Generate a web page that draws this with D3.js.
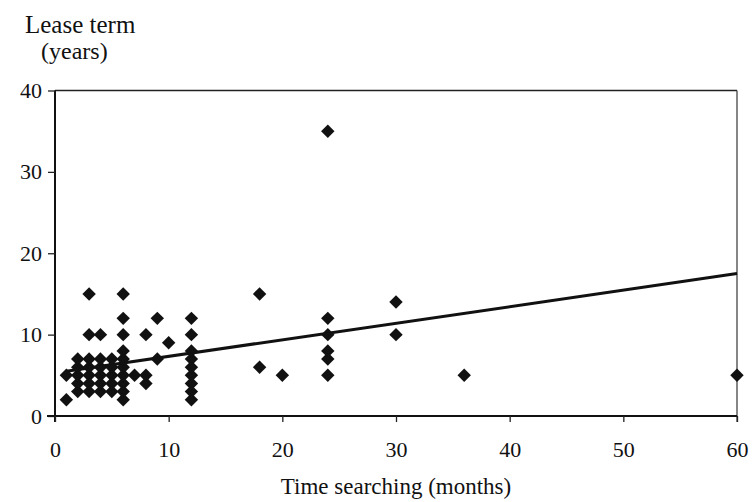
<!DOCTYPE html>
<html>
<head>
<meta charset="utf-8">
<script src="https://cdn.jsdelivr.net/npm/d3@7/dist/d3.min.js"></script>
<style>
  html, body { margin: 0; padding: 0; background: #fff; }
  svg { display: block; }
  text { font-family: "Liberation Serif", "DejaVu Serif", serif; fill: #111; }
</style>
</head>
<body>
<svg id="chart" width="752" height="502"></svg>
<script>
// Data
const months = [1,1, 2,2,2,2,2, 3,3,3,3,3,3,3, 4,4,4,4,4,4, 5,5,5,5,5,
  6,6,6,6,6,6,6,6,6,6, 7, 8,8,8, 9,9, 10, 12,12,12,12,12,12,12,12,12,
  18,18, 20, 24,24,24,24,24,24, 30,30, 36, 60];
const leaseYears = [2,5, 3,4,5,6,7, 3,4,5,6,7,10,15, 3,4,5,6,7,10, 3,4,5,6,7,
  2,3,4,5,6,7,8,10,12,15, 5, 4,5,10, 7,12, 9, 2,3,4,5,6,7,8,10,12,
  6,15, 5, 5,7,8,10,12,35, 10,14, 5, 5];
const trendX = [1, 60];
const trendY = [5.5, 17.5];
const xTicks = [0, 10, 20, 30, 40, 50, 60];
const yTicks = [0, 10, 20, 30, 40];

const svg = d3.select("#chart");
const x = d3.scaleLinear().domain([0, 60]).range([55, 737]);
const y = d3.scaleLinear().domain([0, 40]).range([416, 90.5]);

// frame (top and right)
svg.append("line").attr("x1", x(0)).attr("x2", x(60)).attr("y1", y(40)).attr("y2", y(40))
  .attr("stroke", "#222").attr("stroke-width", 1.5);
svg.append("line").attr("x1", x(60)).attr("x2", x(60)).attr("y1", y(40)).attr("y2", y(0) + 6)
  .attr("stroke", "#444").attr("stroke-width", 1.3);

// axes
const yAxis = svg.append("g").attr("transform", `translate(${x(0)},0)`)
  .call(d3.axisLeft(y).tickValues(yTicks).tickSize(7).tickPadding(6).tickFormat(d3.format("d")));
const xAxis = svg.append("g").attr("transform", `translate(0,${y(0)})`)
  .call(d3.axisBottom(x).tickValues(xTicks).tickSize(6).tickPadding(19).tickFormat(d3.format("d")));
[yAxis, xAxis].forEach(g => {
  g.select(".domain").attr("stroke", "#111").attr("stroke-width", 2);
  g.selectAll(".tick line").attr("stroke", "#222").attr("stroke-width", 1.3);
  g.selectAll(".tick text").attr("font-family", "Liberation Serif").attr("font-size", 22).attr("fill", "#111");
});
yAxis.select(".domain").attr("d", `M0,${y(0) + 6}V${y(40)}`);
xAxis.select(".domain").attr("d", `M${x(0) - 8},0H${x(60)}`);

// trend line
svg.append("path")
  .datum(trendX.map((v, i) => [v, trendY[i]]))
  .attr("d", d3.line().x(d => x(d[0])).y(d => y(d[1])))
  .attr("stroke", "#111").attr("stroke-width", 3).attr("fill", "none");

// points (diamonds)
const sym = d3.symbol().type(d3.symbolSquare).size(90);
svg.append("g").selectAll("path").data(months.map((m, i) => [m, leaseYears[i]]))
  .join("path")
  .attr("d", sym)
  .attr("transform", d => `translate(${x(d[0])},${y(d[1])}) rotate(45)`)
  .attr("fill", "#111");

// titles
svg.append("text").attr("x", 25).attr("y", 33).attr("font-size", 25).text("Lease term");
svg.append("text").attr("x", 41).attr("y", 59).attr("font-size", 24).text("(years)");
svg.append("text").attr("x", (x(0) + x(60)) / 2).attr("y", 494).attr("text-anchor", "middle")
  .attr("font-size", 23).text("Time searching (months)");
</script>
</body>
</html>
